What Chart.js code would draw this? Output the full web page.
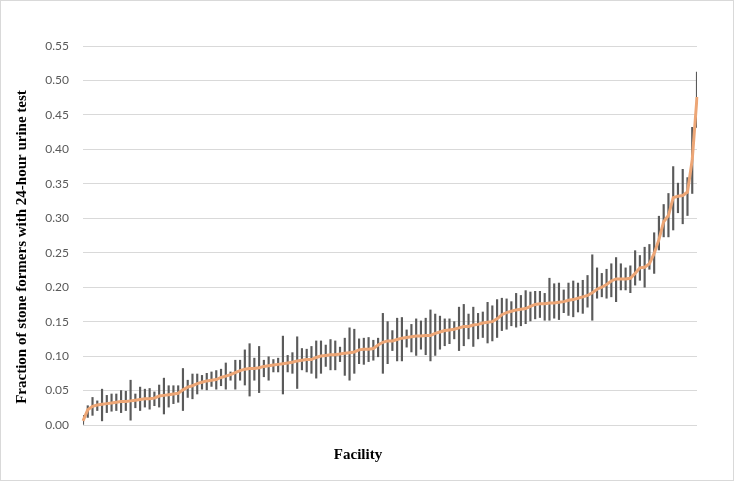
<!DOCTYPE html>
<html>
<head>
<meta charset="utf-8">
<script src="https://cdn.jsdelivr.net/npm/chart.js@4.4.1/dist/chart.umd.min.js"></script>
<style>
html, body { margin: 0; padding: 0; background: #fff; }
#wrap { width: 734px; height: 481px; box-sizing: border-box; border: 1px solid #d9d9d9; position: relative; }
</style>
</head>
<body>
<div id="wrap"><canvas id="myChart"></canvas></div>
<script>
// Fraccion por centro, ordenada de menor a mayor
var fraccion = [
    0.006, 0.022, 0.027, 0.029, 0.030, 0.031, 0.032, 0.033, 0.034, 0.034,
    0.035, 0.036, 0.037, 0.038, 0.038, 0.039, 0.042, 0.043, 0.044, 0.045,
    0.046, 0.051, 0.055, 0.057, 0.060, 0.062, 0.064, 0.065, 0.066, 0.069,
    0.071, 0.073, 0.076, 0.079, 0.081, 0.082, 0.082, 0.083, 0.085, 0.086,
    0.087, 0.088, 0.089, 0.090, 0.091, 0.093, 0.094, 0.095, 0.095, 0.098,
    0.100, 0.101, 0.102, 0.102, 0.103, 0.104, 0.105, 0.106, 0.109, 0.110,
    0.110, 0.111, 0.116, 0.120, 0.122, 0.122, 0.124, 0.126, 0.127, 0.128,
    0.129, 0.129, 0.130, 0.130, 0.133, 0.135, 0.137, 0.138, 0.139, 0.141,
    0.143, 0.143, 0.145, 0.146, 0.148, 0.149, 0.150, 0.154, 0.160, 0.163,
    0.165, 0.167, 0.168, 0.169, 0.172, 0.175, 0.176, 0.176, 0.177, 0.177,
    0.178, 0.179, 0.181, 0.182, 0.184, 0.186, 0.188, 0.192, 0.197, 0.200,
    0.204, 0.209, 0.212, 0.212, 0.212, 0.213, 0.220, 0.228, 0.229, 0.234,
    0.249, 0.269, 0.295, 0.304, 0.330, 0.332, 0.333, 0.338, 0.385, 0.476
];
// Limites del intervalo de confianza
var ciAlto = [
    0.014, 0.028, 0.040, 0.035, 0.052, 0.043, 0.045, 0.045, 0.050, 0.049,
    0.065, 0.045, 0.055, 0.052, 0.053, 0.048, 0.058, 0.068, 0.057, 0.057,
    0.057, 0.082, 0.065, 0.074, 0.074, 0.072, 0.075, 0.077, 0.079, 0.081,
    0.090, 0.077, 0.094,
    0.094, 0.109, 0.118, 0.097, 0.114, 0.094, 0.099, 0.095, 0.097, 0.129,
    0.101, 0.105, 0.128, 0.111, 0.110, 0.114, 0.122, 0.122, 0.116, 0.124,
    0.122, 0.113, 0.126, 0.141, 0.139, 0.125, 0.126, 0.127, 0.123, 0.126,
    0.162, 0.150,
    0.137, 0.155, 0.156, 0.138, 0.146, 0.154, 0.151, 0.155, 0.167, 0.161,
    0.158, 0.154, 0.154, 0.150, 0.171, 0.175, 0.161, 0.171, 0.162, 0.164,
    0.178, 0.173, 0.182, 0.184, 0.183, 0.179, 0.191, 0.188, 0.195, 0.193,
    0.194, 0.194,
    0.191, 0.213, 0.205, 0.206, 0.196, 0.206, 0.209, 0.206, 0.210, 0.217,
    0.247, 0.228, 0.220, 0.226, 0.234, 0.243, 0.234, 0.228, 0.231, 0.253,
    0.246, 0.258, 0.262, 0.279, 0.303, 0.320, 0.336, 0.375, 0.351, 0.371,
    0.359, 0.432, 0.512
];
var ciBajo = [
    0.000, 0.011, 0.014, 0.021, 0.006, 0.018, 0.020, 0.021, 0.018, 0.021,
    0.007, 0.025, 0.021, 0.026, 0.023, 0.028, 0.026, 0.016, 0.026, 0.031,
    0.033, 0.021, 0.040, 0.038, 0.045, 0.052, 0.051, 0.056, 0.052, 0.057,
    0.052, 0.065, 0.052,
    0.065, 0.058, 0.042, 0.065, 0.047, 0.070, 0.065, 0.077, 0.077, 0.045,
    0.077, 0.075, 0.053, 0.080, 0.077, 0.075, 0.068, 0.075, 0.085, 0.080,
    0.080, 0.092, 0.072, 0.065, 0.075, 0.089, 0.088, 0.092, 0.094, 0.099,
    0.075, 0.089,
    0.108, 0.093, 0.093, 0.113, 0.106, 0.101, 0.110, 0.102, 0.093, 0.101,
    0.110, 0.115, 0.118, 0.125, 0.108, 0.115, 0.125, 0.114, 0.125, 0.127,
    0.119, 0.122, 0.127, 0.137, 0.139, 0.144, 0.142, 0.144, 0.147, 0.151,
    0.154, 0.156,
    0.152, 0.152, 0.155, 0.153, 0.163, 0.159, 0.157, 0.164, 0.162, 0.171,
    0.152, 0.184, 0.186, 0.184, 0.186, 0.179, 0.196, 0.196, 0.192, 0.203,
    0.210, 0.200, 0.226, 0.220, 0.254, 0.273, 0.273, 0.283, 0.308, 0.292,
    0.304, 0.336, 0.432
];
var centros = fraccion.map((v, i) => 'Facility ' + (i + 1));
var yMax = 0.55;
var yPaso = 0.05;
var tituloX = 'Facility';
var tituloY = 'Fraction of stone formers with 24-hour urine test';

var barras = ciBajo.map((b, i) => [b, ciAlto[i]]);

// Titulos de los ejes dibujados a mano (para ubicarlos como en el original)
var titulosEjes = {
    id: 'titulosEjes',
    afterDraw: function (chart) {
        var c = chart.ctx;
        c.save();
        c.fillStyle = '#000';
        c.font = 'bold 15px "Liberation Serif"';
        c.textAlign = 'center';
        c.textBaseline = 'middle';
        c.fillText(tituloX, 357, 454);
        c.translate(21, 246);
        c.rotate(-Math.PI / 2);
        c.fillText(tituloY, 0, 0);
        c.restore();
    }
};

var ctx = document.getElementById('myChart').getContext('2d');
var myChart = new Chart(ctx, {
    data: {
        labels: centros,
        datasets: [{
            type: 'line',
            label: 'Fraction',
            data: fraccion,
            borderColor: '#EDA676',
            borderWidth: 3,
            pointRadius: 0,
            tension: 0,
            order: 0
        }, {
            type: 'bar',
            label: 'CI',
            data: barras,
            backgroundColor: '#5a5a5a',
            barThickness: 1.5,
            order: 1
        }]
    },
    options: {
        responsive: true,
        maintainAspectRatio: false,
        animation: false,
        layout: { padding: { top: 45, right: 36, left: 7, bottom: 55 } },
        plugins: {
            legend: { display: false },
            tooltip: { enabled: false }
        },
        scales: {
            x: {
                display: false,
                offset: false
            },
            y: {
                min: 0,
                max: yMax,
                afterFit: function (scale) { scale.width = 75; },
                border: { display: false },
                grid: { color: '#d9d9d9', drawTicks: false },
                ticks: {
                    stepSize: yPaso,
                    padding: 14,
                    color: '#595959',
                    font: { family: 'Lato', size: 12 },
                    callback: function (v) { return v.toFixed(2); }
                }
            }
        }
    },
    plugins: [titulosEjes]
});
</script>
</body>
</html>
